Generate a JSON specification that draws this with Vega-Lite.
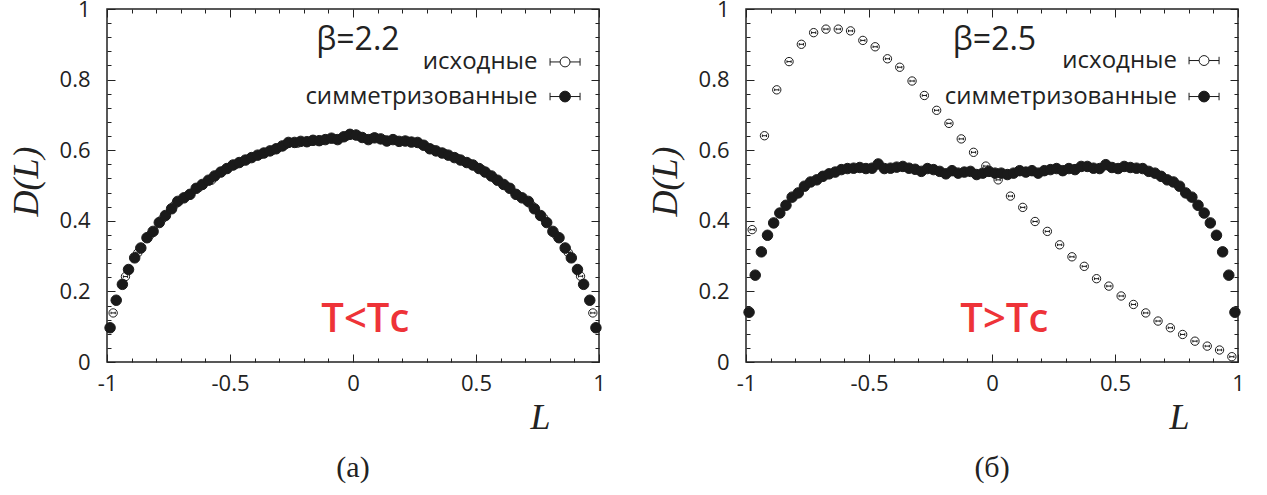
{
 "$schema": "https://vega.github.io/schema/vega-lite/v6.json",
 "padding": {"left": 7, "top": -3, "right": 0, "bottom": 0},
 "background": "white",
 "config": {"view": {"stroke": "#222", "strokeWidth": 1.5}, "font": "Open Sans"},
 "datasets": {
  "a": [
   {"L":-0.975,"D":0.139,"s":"исходные"},{"L":-0.925,"D":0.242,"s":"исходные"},{"L":-0.875,"D":0.309,"s":"исходные"},{"L":-0.825,"D":0.36,"s":"исходные"},{"L":-0.775,"D":0.405,"s":"исходные"},{"L":-0.725,"D":0.445,"s":"исходные"},{"L":-0.675,"D":0.47,"s":"исходные"},{"L":-0.625,"D":0.495,"s":"исходные"},{"L":-0.575,"D":0.515,"s":"исходные"},{"L":-0.525,"D":0.543,"s":"исходные"},{"L":-0.475,"D":0.56,"s":"исходные"},{"L":-0.425,"D":0.575,"s":"исходные"},{"L":-0.375,"D":0.588,"s":"исходные"},{"L":-0.325,"D":0.6,"s":"исходные"},{"L":-0.275,"D":0.615,"s":"исходные"},{"L":-0.225,"D":0.62,"s":"исходные"},{"L":-0.175,"D":0.625,"s":"исходные"},{"L":-0.125,"D":0.628,"s":"исходные"},{"L":-0.075,"D":0.632,"s":"исходные"},{"L":-0.025,"D":0.64,"s":"исходные"},
   {"L":0.025,"D":0.64,"s":"исходные"},{"L":0.075,"D":0.634,"s":"исходные"},{"L":0.125,"D":0.63,"s":"исходные"},{"L":0.175,"D":0.628,"s":"исходные"},{"L":0.225,"D":0.625,"s":"исходные"},{"L":0.275,"D":0.617,"s":"исходные"},{"L":0.325,"D":0.602,"s":"исходные"},{"L":0.375,"D":0.59,"s":"исходные"},{"L":0.425,"D":0.577,"s":"исходные"},{"L":0.475,"D":0.562,"s":"исходные"},{"L":0.525,"D":0.545,"s":"исходные"},{"L":0.575,"D":0.52,"s":"исходные"},{"L":0.625,"D":0.498,"s":"исходные"},{"L":0.675,"D":0.47,"s":"исходные"},{"L":0.725,"D":0.445,"s":"исходные"},{"L":0.775,"D":0.408,"s":"исходные"},{"L":0.825,"D":0.36,"s":"исходные"},{"L":0.875,"D":0.31,"s":"исходные"},{"L":0.925,"D":0.243,"s":"исходные"},{"L":0.975,"D":0.139,"s":"исходные"},
   {"L":-0.9875,"D":0.097,"s":"симметризованные"},{"L":-0.9625,"D":0.175,"s":"симметризованные"},{"L":-0.9375,"D":0.22,"s":"симметризованные"},{"L":-0.9125,"D":0.262,"s":"симметризованные"},{"L":-0.8875,"D":0.295,"s":"симметризованные"},{"L":-0.8625,"D":0.323,"s":"симметризованные"},{"L":-0.8375,"D":0.352,"s":"симметризованные"},{"L":-0.8125,"D":0.37,"s":"симметризованные"},{"L":-0.7875,"D":0.395,"s":"симметризованные"},{"L":-0.7625,"D":0.415,"s":"симметризованные"},{"L":-0.7375,"D":0.434,"s":"симметризованные"},{"L":-0.7125,"D":0.455,"s":"симметризованные"},{"L":-0.6875,"D":0.465,"s":"симметризованные"},{"L":-0.6625,"D":0.475,"s":"симметризованные"},{"L":-0.6375,"D":0.492,"s":"симметризованные"},{"L":-0.6125,"D":0.503,"s":"симметризованные"},{"L":-0.5875,"D":0.515,"s":"симметризованные"},{"L":-0.5625,"D":0.527,"s":"симметризованные"},{"L":-0.5375,"D":0.538,"s":"симметризованные"},{"L":-0.5125,"D":0.548,"s":"симметризованные"},
   {"L":-0.4875,"D":0.558,"s":"симметризованные"},{"L":-0.4625,"D":0.565,"s":"симметризованные"},{"L":-0.4375,"D":0.572,"s":"симметризованные"},{"L":-0.4125,"D":0.579,"s":"симметризованные"},{"L":-0.3875,"D":0.586,"s":"симметризованные"},{"L":-0.3625,"D":0.592,"s":"симметризованные"},{"L":-0.3375,"D":0.598,"s":"симметризованные"},{"L":-0.3125,"D":0.604,"s":"симметризованные"},{"L":-0.2875,"D":0.612,"s":"симметризованные"},{"L":-0.2625,"D":0.622,"s":"симметризованные"},{"L":-0.2375,"D":0.622,"s":"симметризованные"},{"L":-0.2125,"D":0.625,"s":"симметризованные"},{"L":-0.1875,"D":0.624,"s":"симметризованные"},{"L":-0.1625,"D":0.628,"s":"симметризованные"},{"L":-0.1375,"D":0.627,"s":"симметризованные"},{"L":-0.1125,"D":0.63,"s":"симметризованные"},{"L":-0.0875,"D":0.634,"s":"симметризованные"},{"L":-0.0625,"D":0.63,"s":"симметризованные"},{"L":-0.0375,"D":0.638,"s":"симметризованные"},{"L":-0.0125,"D":0.645,"s":"симметризованные"},
   {"L":0.0125,"D":0.643,"s":"симметризованные"},{"L":0.0375,"D":0.636,"s":"симметризованные"},{"L":0.0625,"D":0.63,"s":"симметризованные"},{"L":0.0875,"D":0.635,"s":"симметризованные"},{"L":0.1125,"D":0.632,"s":"симметризованные"},{"L":0.1375,"D":0.626,"s":"симметризованные"},{"L":0.1625,"D":0.63,"s":"симметризованные"},{"L":0.1875,"D":0.625,"s":"симметризованные"},{"L":0.2125,"D":0.626,"s":"симметризованные"},{"L":0.2375,"D":0.623,"s":"симметризованные"},{"L":0.2625,"D":0.622,"s":"симметризованные"},{"L":0.2875,"D":0.614,"s":"симметризованные"},{"L":0.3125,"D":0.604,"s":"симметризованные"},{"L":0.3375,"D":0.598,"s":"симметризованные"},{"L":0.3625,"D":0.592,"s":"симметризованные"},{"L":0.3875,"D":0.586,"s":"симметризованные"},{"L":0.4125,"D":0.579,"s":"симметризованные"},{"L":0.4375,"D":0.572,"s":"симметризованные"},{"L":0.4625,"D":0.565,"s":"симметризованные"},{"L":0.4875,"D":0.558,"s":"симметризованные"},
   {"L":0.5125,"D":0.548,"s":"симметризованные"},{"L":0.5375,"D":0.538,"s":"симметризованные"},{"L":0.5625,"D":0.527,"s":"симметризованные"},{"L":0.5875,"D":0.515,"s":"симметризованные"},{"L":0.6125,"D":0.503,"s":"симметризованные"},{"L":0.6375,"D":0.492,"s":"симметризованные"},{"L":0.6625,"D":0.475,"s":"симметризованные"},{"L":0.6875,"D":0.465,"s":"симметризованные"},{"L":0.7125,"D":0.455,"s":"симметризованные"},{"L":0.7375,"D":0.434,"s":"симметризованные"},{"L":0.7625,"D":0.415,"s":"симметризованные"},{"L":0.7875,"D":0.395,"s":"симметризованные"},{"L":0.8125,"D":0.37,"s":"симметризованные"},{"L":0.8375,"D":0.352,"s":"симметризованные"},{"L":0.8625,"D":0.323,"s":"симметризованные"},{"L":0.8875,"D":0.295,"s":"симметризованные"},{"L":0.9125,"D":0.262,"s":"симметризованные"},{"L":0.9375,"D":0.22,"s":"симметризованные"},{"L":0.9625,"D":0.175,"s":"симметризованные"},{"L":0.9875,"D":0.097,"s":"симметризованные"}
  ],
  "b": [
   {"L":-0.975,"D":0.375,"s":"исходные"},{"L":-0.925,"D":0.641,"s":"исходные"},{"L":-0.875,"D":0.771,"s":"исходные"},{"L":-0.825,"D":0.851,"s":"исходные"},{"L":-0.775,"D":0.9,"s":"исходные"},{"L":-0.725,"D":0.933,"s":"исходные"},{"L":-0.675,"D":0.943,"s":"исходные"},{"L":-0.625,"D":0.943,"s":"исходные"},{"L":-0.575,"D":0.938,"s":"исходные"},{"L":-0.525,"D":0.911,"s":"исходные"},{"L":-0.475,"D":0.893,"s":"исходные"},{"L":-0.425,"D":0.859,"s":"исходные"},{"L":-0.375,"D":0.835,"s":"исходные"},{"L":-0.325,"D":0.796,"s":"исходные"},{"L":-0.275,"D":0.755,"s":"исходные"},{"L":-0.225,"D":0.713,"s":"исходные"},{"L":-0.175,"D":0.676,"s":"исходные"},{"L":-0.125,"D":0.632,"s":"исходные"},{"L":-0.075,"D":0.594,"s":"исходные"},{"L":-0.025,"D":0.555,"s":"исходные"},
   {"L":0.025,"D":0.516,"s":"исходные"},{"L":0.075,"D":0.47,"s":"исходные"},{"L":0.125,"D":0.438,"s":"исходные"},{"L":0.175,"D":0.398,"s":"исходные"},{"L":0.225,"D":0.37,"s":"исходные"},{"L":0.275,"D":0.332,"s":"исходные"},{"L":0.325,"D":0.298,"s":"исходные"},{"L":0.375,"D":0.271,"s":"исходные"},{"L":0.425,"D":0.236,"s":"исходные"},{"L":0.475,"D":0.215,"s":"исходные"},{"L":0.525,"D":0.187,"s":"исходные"},{"L":0.575,"D":0.163,"s":"исходные"},{"L":0.625,"D":0.139,"s":"исходные"},{"L":0.675,"D":0.116,"s":"исходные"},{"L":0.725,"D":0.097,"s":"исходные"},{"L":0.775,"D":0.078,"s":"исходные"},{"L":0.825,"D":0.059,"s":"исходные"},{"L":0.875,"D":0.045,"s":"исходные"},{"L":0.925,"D":0.034,"s":"исходные"},{"L":0.975,"D":0.015,"s":"исходные"},
   {"L":-0.9875,"D":0.141,"s":"симметризованные"},{"L":-0.9625,"D":0.246,"s":"симметризованные"},{"L":-0.9375,"D":0.312,"s":"симметризованные"},{"L":-0.9125,"D":0.359,"s":"симметризованные"},{"L":-0.8875,"D":0.394,"s":"симметризованные"},{"L":-0.8625,"D":0.422,"s":"симметризованные"},{"L":-0.8375,"D":0.444,"s":"симметризованные"},{"L":-0.8125,"D":0.467,"s":"симметризованные"},{"L":-0.7875,"D":0.479,"s":"симметризованные"},{"L":-0.7625,"D":0.498,"s":"симметризованные"},{"L":-0.7375,"D":0.51,"s":"симметризованные"},{"L":-0.7125,"D":0.516,"s":"симметризованные"},{"L":-0.6875,"D":0.526,"s":"симметризованные"},{"L":-0.6625,"D":0.533,"s":"симметризованные"},{"L":-0.6375,"D":0.538,"s":"симметризованные"},{"L":-0.6125,"D":0.545,"s":"симметризованные"},{"L":-0.5875,"D":0.548,"s":"симметризованные"},{"L":-0.5625,"D":0.549,"s":"симметризованные"},{"L":-0.5375,"D":0.551,"s":"симметризованные"},{"L":-0.5125,"D":0.548,"s":"симметризованные"},
   {"L":-0.4875,"D":0.549,"s":"симметризованные"},{"L":-0.4625,"D":0.561,"s":"симметризованные"},{"L":-0.4375,"D":0.548,"s":"симметризованные"},{"L":-0.4125,"D":0.549,"s":"симметризованные"},{"L":-0.3875,"D":0.552,"s":"симметризованные"},{"L":-0.3625,"D":0.554,"s":"симметризованные"},{"L":-0.3375,"D":0.549,"s":"симметризованные"},{"L":-0.3125,"D":0.546,"s":"симметризованные"},{"L":-0.2875,"D":0.54,"s":"симметризованные"},{"L":-0.2625,"D":0.548,"s":"симметризованные"},{"L":-0.2375,"D":0.545,"s":"симметризованные"},{"L":-0.2125,"D":0.54,"s":"симметризованные"},{"L":-0.1875,"D":0.533,"s":"симметризованные"},{"L":-0.1625,"D":0.542,"s":"симметризованные"},{"L":-0.1375,"D":0.535,"s":"симметризованные"},{"L":-0.1125,"D":0.538,"s":"симметризованные"},{"L":-0.0875,"D":0.54,"s":"симметризованные"},{"L":-0.0625,"D":0.531,"s":"симметризованные"},{"L":-0.0375,"D":0.535,"s":"симметризованные"},{"L":-0.0125,"D":0.54,"s":"симметризованные"},
   {"L":0.0125,"D":0.535,"s":"симметризованные"},{"L":0.0375,"D":0.535,"s":"симметризованные"},{"L":0.0625,"D":0.531,"s":"симметризованные"},{"L":0.0875,"D":0.535,"s":"симметризованные"},{"L":0.1125,"D":0.542,"s":"симметризованные"},{"L":0.1375,"D":0.538,"s":"симметризованные"},{"L":0.1625,"D":0.542,"s":"симметризованные"},{"L":0.1875,"D":0.535,"s":"симметризованные"},{"L":0.2125,"D":0.542,"s":"симметризованные"},{"L":0.2375,"D":0.545,"s":"симметризованные"},{"L":0.2625,"D":0.548,"s":"симметризованные"},{"L":0.2875,"D":0.542,"s":"симметризованные"},{"L":0.3125,"D":0.548,"s":"симметризованные"},{"L":0.3375,"D":0.545,"s":"симметризованные"},{"L":0.3625,"D":0.554,"s":"симметризованные"},{"L":0.3875,"D":0.554,"s":"симметризованные"},{"L":0.4125,"D":0.549,"s":"симметризованные"},{"L":0.4375,"D":0.548,"s":"симметризованные"},{"L":0.4625,"D":0.559,"s":"симметризованные"},{"L":0.4875,"D":0.551,"s":"симметризованные"},
   {"L":0.5125,"D":0.548,"s":"симметризованные"},{"L":0.5375,"D":0.554,"s":"симметризованные"},{"L":0.5625,"D":0.551,"s":"симметризованные"},{"L":0.5875,"D":0.549,"s":"симметризованные"},{"L":0.6125,"D":0.548,"s":"симметризованные"},{"L":0.6375,"D":0.54,"s":"симметризованные"},{"L":0.6625,"D":0.535,"s":"симметризованные"},{"L":0.6875,"D":0.526,"s":"симметризованные"},{"L":0.7125,"D":0.516,"s":"симметризованные"},{"L":0.7375,"D":0.51,"s":"симметризованные"},{"L":0.7625,"D":0.498,"s":"симметризованные"},{"L":0.7875,"D":0.479,"s":"симметризованные"},{"L":0.8125,"D":0.467,"s":"симметризованные"},{"L":0.8375,"D":0.444,"s":"симметризованные"},{"L":0.8625,"D":0.422,"s":"симметризованные"},{"L":0.8875,"D":0.394,"s":"симметризованные"},{"L":0.9125,"D":0.359,"s":"симметризованные"},{"L":0.9375,"D":0.312,"s":"симметризованные"},{"L":0.9625,"D":0.246,"s":"симметризованные"},{"L":0.9875,"D":0.141,"s":"симметризованные"}
  ]
 },
 "spacing": 39,
 "resolve": {"scale": {"fill": "independent", "shape": "independent", "size": "independent"}},
 "hconcat": [
  {
   "width": 492, "height": 353,
   "data": {"name": "a"},
   "title": {"text": "(а)", "orient": "bottom", "frame": "group", "anchor": "middle", "font": "Liberation Serif", "fontSize": 30, "fontWeight": "normal", "color": "#222", "offset": 18},
   "resolve": {"axis": {"x": "independent", "y": "independent"}},
   "layer": [
    {"mark": {"type": "point", "opacity": 0},
     "encoding": {
      "x": {"field": "L", "type": "quantitative", "scale": {"domain": [-1, 1], "nice": false, "zero": false},
            "axis": {"values": [-1, -0.5, 0, 0.5, 1], "labelExpr": "'' + datum.value", "ticks": false, "domain": false, "grid": false, "labelPadding": 11, "labelFont": "Open Sans", "labelFontSize": 22, "labelColor": "#222", "labelFlush": false, "labelOverlap": false,
                     "title": "L", "titleFont": "Liberation Serif", "titleFontStyle": "italic", "titleFontSize": 36, "titleFontWeight": "normal", "titleColor": "#222", "titleX": 433, "titleY": 66, "titleAlign": "center", "titleBaseline": "alphabetic"}},
      "y": {"field": "D", "type": "quantitative", "scale": {"domain": [0, 1], "nice": false},
            "axis": {"values": [0, 0.2, 0.4, 0.6, 0.8, 1], "labelExpr": "'' + datum.value", "ticks": false, "domain": false, "grid": false, "labelPadding": 17, "labelFont": "Open Sans", "labelFontSize": 22, "labelColor": "#222", "labelFlush": false, "labelOverlap": false,
                     "title": "D(L)", "titleFont": "Liberation Serif", "titleFontStyle": "italic", "titleFontSize": 36, "titleFontWeight": "normal", "titleColor": "#222", "titleX": -70, "titleY": 172, "titleAngle": -90, "titleAlign": "center", "titleBaseline": "alphabetic"}}
     }},
    {"mark": {"type": "point", "opacity": 0},
     "encoding": {
      "x": {"field": "L", "type": "quantitative", "axis": {"orient": "bottom", "values": [-1, -0.9, -0.8, -0.7, -0.6, -0.5, -0.4, -0.3, -0.2, -0.1, 0, 0.1, 0.2, 0.3, 0.4, 0.5, 0.6, 0.7, 0.8, 0.9, 1], "labels": false, "domain": false, "grid": false, "title": null, "tickColor": "#222", "tickWidth": 1, "tickSize": {"condition": {"test": "abs(datum.value*2 - round(datum.value*2)) < 0.000001", "value": -8}, "value": -4}}},
      "y": {"field": "D", "type": "quantitative", "axis": {"orient": "left", "values": [0, 0.04, 0.08, 0.12, 0.16, 0.2, 0.24, 0.28, 0.32, 0.36, 0.4, 0.44, 0.48, 0.52, 0.56, 0.6, 0.64, 0.68, 0.72, 0.76, 0.8, 0.84, 0.88, 0.92, 0.96, 1], "labels": false, "domain": false, "grid": false, "title": null, "tickColor": "#222", "tickWidth": 1, "tickSize": {"condition": {"test": "abs(datum.value*5 - round(datum.value*5)) < 0.000001", "value": -8}, "value": -4}}}
     }},
    {"mark": {"type": "point", "opacity": 0},
     "encoding": {
      "x": {"field": "L", "type": "quantitative", "axis": {"orient": "top", "values": [-1, -0.9, -0.8, -0.7, -0.6, -0.5, -0.4, -0.3, -0.2, -0.1, 0, 0.1, 0.2, 0.3, 0.4, 0.5, 0.6, 0.7, 0.8, 0.9, 1], "labels": false, "domain": false, "grid": false, "title": null, "tickColor": "#222", "tickWidth": 1, "tickSize": {"condition": {"test": "abs(datum.value*2 - round(datum.value*2)) < 0.000001", "value": -8}, "value": -4}}},
      "y": {"field": "D", "type": "quantitative", "axis": {"orient": "right", "values": [0, 0.04, 0.08, 0.12, 0.16, 0.2, 0.24, 0.28, 0.32, 0.36, 0.4, 0.44, 0.48, 0.52, 0.56, 0.6, 0.64, 0.68, 0.72, 0.76, 0.8, 0.84, 0.88, 0.92, 0.96, 1], "labels": false, "domain": false, "grid": false, "title": null, "tickColor": "#222", "tickWidth": 1, "tickSize": {"condition": {"test": "abs(datum.value*5 - round(datum.value*5)) < 0.000001", "value": -8}, "value": -4}}}
     }},
    {"mark": {"type": "point", "stroke": "#1a1a1a", "strokeWidth": 1, "opacity": 1},
     "encoding": {
      "x": {"field": "L", "type": "quantitative", "axis": null},
      "y": {"field": "D", "type": "quantitative", "axis": null},
      "fill": {"field": "s", "type": "nominal", "scale": {"domain": ["исходные", "симметризованные"], "range": ["white", "#1a1a1a"]}, "legend": null},
      "shape": {"field": "s", "type": "nominal", "scale": {"domain": ["исходные", "симметризованные"], "range": ["M1,0A1,1,0,1,1,-1,0A1,1,0,1,1,1,0Z M-0.5,0L0.5,0 M-0.5,-0.3L-0.5,0.3 M0.5,-0.3L0.5,0.3", "circle"]}, "legend": null},
      "size": {"field": "s", "type": "nominal", "scale": {"domain": ["исходные", "симметризованные"], "range": [70, 110]}, "legend": null}
     }},
    {"data": {"values": [{"t": "исходные"}]},
     "mark": {"type": "text", "font": "Open Sans", "fontSize": 24, "color": "#222", "align": "right", "baseline": "middle"},
     "encoding": {"x": {"datum": 0.75, "type": "quantitative", "axis": null}, "y": {"datum": 0.85, "type": "quantitative", "axis": null}, "text": {"field": "t"}}},
    {"data": {"values": [{"t": "симметризованные"}]},
     "mark": {"type": "text", "font": "Open Sans", "fontSize": 24, "color": "#222", "align": "right", "baseline": "middle"},
     "encoding": {"x": {"datum": 0.75, "type": "quantitative", "axis": null}, "y": {"datum": 0.752, "type": "quantitative", "axis": null}, "text": {"field": "t"}}},
    {"data": {"values": [{"s": "исходные"}]},
     "mark": {"type": "point", "shape": "M-1,-0.25L-1,0.25M-1,0L-0.33,0M0.33,0L1,0M1,-0.25L1,0.25M0.33,0A0.33,0.33,0,1,1,-0.33,0A0.33,0.33,0,1,1,0.33,0Z", "size": 900, "fill": "white", "stroke": "#1a1a1a", "strokeWidth": 1, "opacity": 1},
     "encoding": {"x": {"datum": 0.862, "type": "quantitative", "axis": null}, "y": {"datum": 0.85, "type": "quantitative", "axis": null}}},
    {"data": {"values": [{"s": "симметризованные"}]},
     "mark": {"type": "point", "shape": "M-1,-0.25L-1,0.25M-1,0L-0.33,0M0.33,0L1,0M1,-0.25L1,0.25M0.36,0A0.36,0.36,0,1,1,-0.36,0A0.36,0.36,0,1,1,0.36,0Z", "size": 900, "fill": "#1a1a1a", "stroke": "#1a1a1a", "strokeWidth": 1, "opacity": 1},
     "encoding": {"x": {"datum": 0.862, "type": "quantitative", "axis": null}, "y": {"datum": 0.752, "type": "quantitative", "axis": null}}},
    {"data": {"values": [{"t": "β=2.2"}]},
     "mark": {"type": "text", "font": "Open Sans", "fontSize": 32, "color": "#222", "align": "center", "baseline": "alphabetic"},
     "encoding": {"x": {"datum": 0.02, "type": "quantitative", "axis": null}, "y": {"datum": 0.885, "type": "quantitative", "axis": null}, "text": {"field": "t"}}},
    {"data": {"values": [{"t": "T<Tc"}]},
     "mark": {"type": "text", "font": "Open Sans", "fontSize": 40, "fontWeight": 600, "color": "#ee3338", "align": "center", "baseline": "alphabetic"},
     "encoding": {"x": {"datum": 0.05, "type": "quantitative", "axis": null}, "y": {"datum": 0.085, "type": "quantitative", "axis": null}, "text": {"field": "t"}}}
   ]
  },
  {
   "width": 492, "height": 353,
   "data": {"name": "b"},
   "title": {"text": "(б)", "orient": "bottom", "frame": "group", "anchor": "middle", "font": "Liberation Serif", "fontSize": 30, "fontWeight": "normal", "color": "#222", "offset": 18},
   "resolve": {"axis": {"x": "independent", "y": "independent"}},
   "layer": [
    {"mark": {"type": "point", "opacity": 0},
     "encoding": {
      "x": {"field": "L", "type": "quantitative", "scale": {"domain": [-1, 1], "nice": false, "zero": false},
            "axis": {"values": [-1, -0.5, 0, 0.5, 1], "labelExpr": "'' + datum.value", "ticks": false, "domain": false, "grid": false, "labelPadding": 11, "labelFont": "Open Sans", "labelFontSize": 22, "labelColor": "#222", "labelFlush": false, "labelOverlap": false,
                     "title": "L", "titleFont": "Liberation Serif", "titleFontStyle": "italic", "titleFontSize": 36, "titleFontWeight": "normal", "titleColor": "#222", "titleX": 433, "titleY": 66, "titleAlign": "center", "titleBaseline": "alphabetic"}},
      "y": {"field": "D", "type": "quantitative", "scale": {"domain": [0, 1], "nice": false},
            "axis": {"values": [0, 0.2, 0.4, 0.6, 0.8, 1], "labelExpr": "'' + datum.value", "ticks": false, "domain": false, "grid": false, "labelPadding": 17, "labelFont": "Open Sans", "labelFontSize": 22, "labelColor": "#222", "labelFlush": false, "labelOverlap": false,
                     "title": "D(L)", "titleFont": "Liberation Serif", "titleFontStyle": "italic", "titleFontSize": 36, "titleFontWeight": "normal", "titleColor": "#222", "titleX": -70, "titleY": 172, "titleAngle": -90, "titleAlign": "center", "titleBaseline": "alphabetic"}}
     }},
    {"mark": {"type": "point", "opacity": 0},
     "encoding": {
      "x": {"field": "L", "type": "quantitative", "axis": {"orient": "bottom", "values": [-1, -0.9, -0.8, -0.7, -0.6, -0.5, -0.4, -0.3, -0.2, -0.1, 0, 0.1, 0.2, 0.3, 0.4, 0.5, 0.6, 0.7, 0.8, 0.9, 1], "labels": false, "domain": false, "grid": false, "title": null, "tickColor": "#222", "tickWidth": 1, "tickSize": {"condition": {"test": "abs(datum.value*2 - round(datum.value*2)) < 0.000001", "value": -8}, "value": -4}}},
      "y": {"field": "D", "type": "quantitative", "axis": {"orient": "left", "values": [0, 0.04, 0.08, 0.12, 0.16, 0.2, 0.24, 0.28, 0.32, 0.36, 0.4, 0.44, 0.48, 0.52, 0.56, 0.6, 0.64, 0.68, 0.72, 0.76, 0.8, 0.84, 0.88, 0.92, 0.96, 1], "labels": false, "domain": false, "grid": false, "title": null, "tickColor": "#222", "tickWidth": 1, "tickSize": {"condition": {"test": "abs(datum.value*5 - round(datum.value*5)) < 0.000001", "value": -8}, "value": -4}}}
     }},
    {"mark": {"type": "point", "opacity": 0},
     "encoding": {
      "x": {"field": "L", "type": "quantitative", "axis": {"orient": "top", "values": [-1, -0.9, -0.8, -0.7, -0.6, -0.5, -0.4, -0.3, -0.2, -0.1, 0, 0.1, 0.2, 0.3, 0.4, 0.5, 0.6, 0.7, 0.8, 0.9, 1], "labels": false, "domain": false, "grid": false, "title": null, "tickColor": "#222", "tickWidth": 1, "tickSize": {"condition": {"test": "abs(datum.value*2 - round(datum.value*2)) < 0.000001", "value": -8}, "value": -4}}},
      "y": {"field": "D", "type": "quantitative", "axis": {"orient": "right", "values": [0, 0.04, 0.08, 0.12, 0.16, 0.2, 0.24, 0.28, 0.32, 0.36, 0.4, 0.44, 0.48, 0.52, 0.56, 0.6, 0.64, 0.68, 0.72, 0.76, 0.8, 0.84, 0.88, 0.92, 0.96, 1], "labels": false, "domain": false, "grid": false, "title": null, "tickColor": "#222", "tickWidth": 1, "tickSize": {"condition": {"test": "abs(datum.value*5 - round(datum.value*5)) < 0.000001", "value": -8}, "value": -4}}}
     }},
    {"mark": {"type": "point", "stroke": "#1a1a1a", "strokeWidth": 1, "opacity": 1},
     "encoding": {
      "x": {"field": "L", "type": "quantitative", "axis": null},
      "y": {"field": "D", "type": "quantitative", "axis": null},
      "fill": {"field": "s", "type": "nominal", "scale": {"domain": ["исходные", "симметризованные"], "range": ["white", "#1a1a1a"]}, "legend": null},
      "shape": {"field": "s", "type": "nominal", "scale": {"domain": ["исходные", "симметризованные"], "range": ["M1,0A1,1,0,1,1,-1,0A1,1,0,1,1,1,0Z M-0.5,0L0.5,0 M-0.5,-0.3L-0.5,0.3 M0.5,-0.3L0.5,0.3", "circle"]}, "legend": null},
      "size": {"field": "s", "type": "nominal", "scale": {"domain": ["исходные", "симметризованные"], "range": [70, 110]}, "legend": null}
     }},
    {"data": {"values": [{"t": "исходные"}]},
     "mark": {"type": "text", "font": "Open Sans", "fontSize": 24, "color": "#222", "align": "right", "baseline": "middle"},
     "encoding": {"x": {"datum": 0.752, "type": "quantitative", "axis": null}, "y": {"datum": 0.854, "type": "quantitative", "axis": null}, "text": {"field": "t"}}},
    {"data": {"values": [{"t": "симметризованные"}]},
     "mark": {"type": "text", "font": "Open Sans", "fontSize": 24, "color": "#222", "align": "right", "baseline": "middle"},
     "encoding": {"x": {"datum": 0.752, "type": "quantitative", "axis": null}, "y": {"datum": 0.752, "type": "quantitative", "axis": null}, "text": {"field": "t"}}},
    {"data": {"values": [{"s": "исходные"}]},
     "mark": {"type": "point", "shape": "M-1,-0.25L-1,0.25M-1,0L-0.33,0M0.33,0L1,0M1,-0.25L1,0.25M0.33,0A0.33,0.33,0,1,1,-0.33,0A0.33,0.33,0,1,1,0.33,0Z", "size": 900, "fill": "white", "stroke": "#1a1a1a", "strokeWidth": 1, "opacity": 1},
     "encoding": {"x": {"datum": 0.862, "type": "quantitative", "axis": null}, "y": {"datum": 0.854, "type": "quantitative", "axis": null}}},
    {"data": {"values": [{"s": "симметризованные"}]},
     "mark": {"type": "point", "shape": "M-1,-0.25L-1,0.25M-1,0L-0.33,0M0.33,0L1,0M1,-0.25L1,0.25M0.36,0A0.36,0.36,0,1,1,-0.36,0A0.36,0.36,0,1,1,0.36,0Z", "size": 900, "fill": "#1a1a1a", "stroke": "#1a1a1a", "strokeWidth": 1, "opacity": 1},
     "encoding": {"x": {"datum": 0.862, "type": "quantitative", "axis": null}, "y": {"datum": 0.752, "type": "quantitative", "axis": null}}},
    {"data": {"values": [{"t": "β=2.5"}]},
     "mark": {"type": "text", "font": "Open Sans", "fontSize": 32, "color": "#222", "align": "center", "baseline": "alphabetic"},
     "encoding": {"x": {"datum": 0.01, "type": "quantitative", "axis": null}, "y": {"datum": 0.885, "type": "quantitative", "axis": null}, "text": {"field": "t"}}},
    {"data": {"values": [{"t": "T>Tc"}]},
     "mark": {"type": "text", "font": "Open Sans", "fontSize": 40, "fontWeight": 600, "color": "#ee3338", "align": "center", "baseline": "alphabetic"},
     "encoding": {"x": {"datum": 0.05, "type": "quantitative", "axis": null}, "y": {"datum": 0.085, "type": "quantitative", "axis": null}, "text": {"field": "t"}}}
   ]
  }
 ]
}
